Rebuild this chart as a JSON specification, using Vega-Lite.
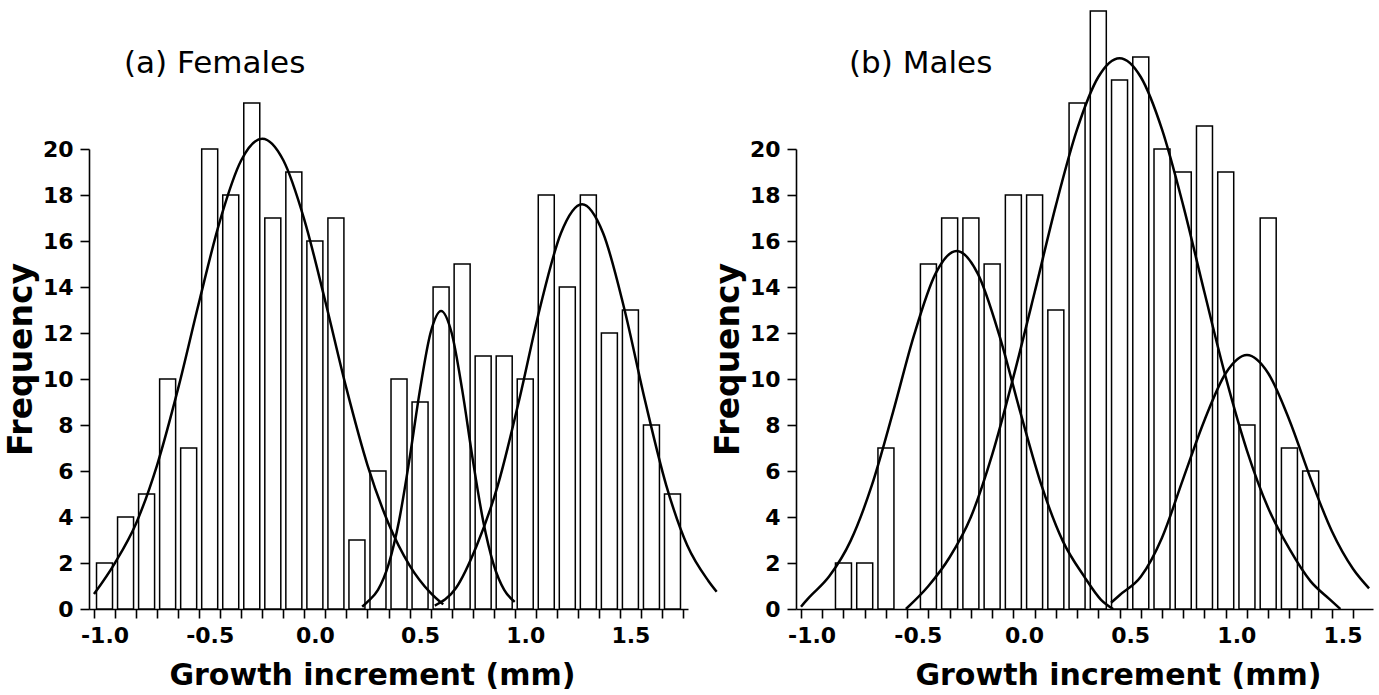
{
  "$schema": "https://vega.github.io/schema/vega-lite/v6.json",
  "background": "white",
  "padding": {"left": 5, "top": 10, "right": 5, "bottom": 0},
  "spacing": 108,
  "bounds": "flush",
  "config": {
    "view": {"stroke": null},
    "font": "DejaVu Sans",
    "axis": {
      "domainColor": "black", "domainWidth": 1.6,
      "tickColor": "black", "tickWidth": 1.6, "tickSize": 9,
      "labelFont": "DejaVu Sans", "labelFontWeight": "bold", "labelFontSize": 22, "labelColor": "black",
      "titleFont": "DejaVu Sans", "titleFontWeight": "bold", "titleColor": "black",
      "grid": false, "labelOverlap": false, "labelFlush": false
    }
  },
  "datasets": {
    "barsA": [
      {"x": -1.0, "count": 2}, {"x": -0.9, "count": 4}, {"x": -0.8, "count": 5}, {"x": -0.7, "count": 10},
      {"x": -0.6, "count": 7}, {"x": -0.5, "count": 20}, {"x": -0.4, "count": 18}, {"x": -0.3, "count": 22},
      {"x": -0.2, "count": 17}, {"x": -0.1, "count": 19}, {"x": 0.0, "count": 16}, {"x": 0.1, "count": 17},
      {"x": 0.2, "count": 3}, {"x": 0.3, "count": 6}, {"x": 0.4, "count": 10}, {"x": 0.5, "count": 9},
      {"x": 0.6, "count": 14}, {"x": 0.7, "count": 15}, {"x": 0.8, "count": 11}, {"x": 0.9, "count": 11},
      {"x": 1.0, "count": 10}, {"x": 1.1, "count": 18}, {"x": 1.2, "count": 14}, {"x": 1.3, "count": 18},
      {"x": 1.4, "count": 12}, {"x": 1.5, "count": 13}, {"x": 1.6, "count": 8}, {"x": 1.7, "count": 5}
    ],
    "barsB": [
      {"x": -0.85, "count": 2}, {"x": -0.75, "count": 2}, {"x": -0.65, "count": 7},
      {"x": -0.45, "count": 15}, {"x": -0.35, "count": 17}, {"x": -0.25, "count": 17}, {"x": -0.15, "count": 15},
      {"x": -0.05, "count": 18}, {"x": 0.05, "count": 18}, {"x": 0.15, "count": 13}, {"x": 0.25, "count": 22},
      {"x": 0.35, "count": 26}, {"x": 0.45, "count": 23}, {"x": 0.55, "count": 24}, {"x": 0.65, "count": 20},
      {"x": 0.75, "count": 19}, {"x": 0.85, "count": 21}, {"x": 0.95, "count": 19}, {"x": 1.05, "count": 8},
      {"x": 1.15, "count": 17}, {"x": 1.25, "count": 7}, {"x": 1.35, "count": 6}
    ],
    "curvesA": [
      {"comp": "1", "x": -1.05, "f": 0.65}, {"comp": "1", "x": -0.95, "f": 2.01}, {"comp": "1", "x": -0.85, "f": 3.72},
      {"comp": "1", "x": -0.75, "f": 6.26}, {"comp": "1", "x": -0.65, "f": 9.59}, {"comp": "1", "x": -0.55, "f": 13.36},
      {"comp": "1", "x": -0.45, "f": 16.92}, {"comp": "1", "x": -0.35, "f": 19.51}, {"comp": "1", "x": -0.25, "f": 20.45},
      {"comp": "1", "x": -0.15, "f": 19.51}, {"comp": "1", "x": -0.05, "f": 16.92}, {"comp": "1", "x": 0.05, "f": 13.36},
      {"comp": "1", "x": 0.15, "f": 9.59}, {"comp": "1", "x": 0.25, "f": 6.26}, {"comp": "1", "x": 0.35, "f": 3.72},
      {"comp": "1", "x": 0.45, "f": 1.9}, {"comp": "1", "x": 0.55, "f": 0.7}, {"comp": "1", "x": 0.61, "f": 0.2},
      {"comp": "2", "x": 0.225, "f": 0.1}, {"comp": "2", "x": 0.25, "f": 0.31}, {"comp": "2", "x": 0.3, "f": 0.83},
      {"comp": "2", "x": 0.35, "f": 1.93}, {"comp": "2", "x": 0.4, "f": 3.83}, {"comp": "2", "x": 0.45, "f": 6.53},
      {"comp": "2", "x": 0.5, "f": 9.55}, {"comp": "2", "x": 0.55, "f": 12.01}, {"comp": "2", "x": 0.6, "f": 12.96},
      {"comp": "2", "x": 0.65, "f": 12.01}, {"comp": "2", "x": 0.7, "f": 9.55}, {"comp": "2", "x": 0.75, "f": 6.53},
      {"comp": "2", "x": 0.8, "f": 3.83}, {"comp": "2", "x": 0.85, "f": 1.93}, {"comp": "2", "x": 0.9, "f": 0.83},
      {"comp": "2", "x": 0.95, "f": 0.31},
      {"comp": "3", "x": 0.57, "f": 0.15}, {"comp": "3", "x": 0.67, "f": 0.9}, {"comp": "3", "x": 0.77, "f": 2.77},
      {"comp": "3", "x": 0.87, "f": 5.39}, {"comp": "3", "x": 0.97, "f": 9.04}, {"comp": "3", "x": 1.07, "f": 13.09},
      {"comp": "3", "x": 1.17, "f": 16.35}, {"comp": "3", "x": 1.27, "f": 17.6}, {"comp": "3", "x": 1.37, "f": 16.35},
      {"comp": "3", "x": 1.47, "f": 13.09}, {"comp": "3", "x": 1.57, "f": 9.04}, {"comp": "3", "x": 1.67, "f": 5.39},
      {"comp": "3", "x": 1.77, "f": 2.77}, {"comp": "3", "x": 1.87, "f": 1.23}, {"comp": "3", "x": 1.91, "f": 0.75}
    ],
    "curvesB": [
      {"comp": "1", "x": -1.05, "f": 0.1}, {"comp": "1", "x": -1.017, "f": 0.45}, {"comp": "1", "x": -0.917, "f": 1.42},
      {"comp": "1", "x": -0.817, "f": 2.95}, {"comp": "1", "x": -0.717, "f": 5.36}, {"comp": "1", "x": -0.617, "f": 8.55},
      {"comp": "1", "x": -0.517, "f": 11.93}, {"comp": "1", "x": -0.417, "f": 14.57}, {"comp": "1", "x": -0.317, "f": 15.57},
      {"comp": "1", "x": -0.217, "f": 14.57}, {"comp": "1", "x": -0.117, "f": 11.93}, {"comp": "1", "x": -0.017, "f": 8.55},
      {"comp": "1", "x": 0.083, "f": 5.36}, {"comp": "1", "x": 0.183, "f": 2.95}, {"comp": "1", "x": 0.283, "f": 1.42},
      {"comp": "1", "x": 0.363, "f": 0.4}, {"comp": "1", "x": 0.42, "f": 0.0},
      {"comp": "2", "x": -0.556, "f": 0.0}, {"comp": "2", "x": -0.45, "f": 1.0}, {"comp": "2", "x": -0.35, "f": 2.25},
      {"comp": "2", "x": -0.25, "f": 4.0}, {"comp": "2", "x": -0.15, "f": 6.7}, {"comp": "2", "x": -0.05, "f": 10.08},
      {"comp": "2", "x": 0.05, "f": 13.76}, {"comp": "2", "x": 0.15, "f": 17.54}, {"comp": "2", "x": 0.25, "f": 20.85},
      {"comp": "2", "x": 0.35, "f": 23.13}, {"comp": "2", "x": 0.45, "f": 23.95}, {"comp": "2", "x": 0.55, "f": 23.13},
      {"comp": "2", "x": 0.65, "f": 20.85}, {"comp": "2", "x": 0.75, "f": 17.54}, {"comp": "2", "x": 0.85, "f": 13.76},
      {"comp": "2", "x": 0.95, "f": 10.08}, {"comp": "2", "x": 1.05, "f": 6.89}, {"comp": "2", "x": 1.15, "f": 4.39},
      {"comp": "2", "x": 1.25, "f": 2.61}, {"comp": "2", "x": 1.35, "f": 1.2}, {"comp": "2", "x": 1.44, "f": 0.42},
      {"comp": "2", "x": 1.49, "f": 0.0},
      {"comp": "3", "x": 0.41, "f": 0.27}, {"comp": "3", "x": 0.45, "f": 0.6}, {"comp": "3", "x": 0.55, "f": 1.4},
      {"comp": "3", "x": 0.65, "f": 3.1}, {"comp": "3", "x": 0.75, "f": 5.67}, {"comp": "3", "x": 0.85, "f": 8.21},
      {"comp": "3", "x": 0.95, "f": 10.25}, {"comp": "3", "x": 1.05, "f": 11.04}, {"comp": "3", "x": 1.15, "f": 10.25},
      {"comp": "3", "x": 1.25, "f": 8.21}, {"comp": "3", "x": 1.35, "f": 5.67}, {"comp": "3", "x": 1.45, "f": 3.38},
      {"comp": "3", "x": 1.55, "f": 1.74}, {"comp": "3", "x": 1.625, "f": 0.9}
    ]
  },
  "hconcat": [
    {
      "width": 599,
      "height": 460,
      "title": {"text": "(a) Females", "dx": 35, "anchor": "start", "frame": "group", "baseline": "alphabetic", "offset": -2, "font": "DejaVu Sans", "fontWeight": "normal", "fontSize": 31, "color": "black"},
      "resolve": {"scale": {"x": "shared", "y": "shared"}, "axis": {"x": "independent"}},
      "layer": [
        {
          "data": {"name": "barsA"},
          "mark": {"type": "bar", "orient": "vertical", "fill": "white", "stroke": "black", "strokeWidth": 1.5, "size": 16},
          "encoding": {
            "x": {
              "field": "x", "type": "quantitative",
              "scale": {"domain": [-1.05, 1.75], "nice": false, "zero": false},
              "axis": {
                "orient": "bottom", "title": null, "labels": false,
                "values": [-1.05, -0.95, -0.85, -0.75, -0.65, -0.55, -0.45, -0.35, -0.25, -0.15, -0.05, 0.05, 0.15, 0.25, 0.35, 0.45, 0.55, 0.65, 0.75, 0.85, 0.95, 1.05, 1.15, 1.25, 1.35, 1.45, 1.55, 1.65, 1.75]
              }
            },
            "y": {
              "field": "count", "type": "quantitative",
              "scale": {"domain": [0, 20], "nice": false},
              "axis": {"title": "Frequency", "titleFontSize": 33, "titlePadding": 4, "labelPadding": 7, "values": [0, 2, 4, 6, 8, 10, 12, 14, 16, 18, 20], "titleY": 210}
            }
          }
        },
        {
          "data": {"name": "curvesA"},
          "mark": {"type": "line", "color": "black", "strokeWidth": 2.5, "interpolate": "monotone"},
          "encoding": {
            "x": {
              "field": "x", "type": "quantitative",
              "axis": {
                "orient": "bottom", "domain": false, "tickOpacity": 0,
                "title": "Growth increment (mm)", "titleFontSize": 30, "titlePadding": 14, "titleX": 283,
                "labelPadding": 7,
                "values": [-1.0, -0.5, 0.0, 0.5, 1.0, 1.5],
                "labelExpr": "(datum.value < 0 ? '-' : '') + format(abs(datum.value), '.1f')"
              }
            },
            "y": {"field": "f", "type": "quantitative"},
            "detail": {"field": "comp"}
          }
        }
      ]
    },
    {
      "width": 577,
      "height": 460,
      "title": {"text": "(b) Males", "dx": 53, "anchor": "start", "frame": "group", "baseline": "alphabetic", "offset": -94, "font": "DejaVu Sans", "fontWeight": "normal", "fontSize": 31, "color": "black"},
      "resolve": {"scale": {"x": "shared", "y": "shared"}, "axis": {"x": "independent"}},
      "layer": [
        {
          "data": {"name": "barsB"},
          "mark": {"type": "bar", "orient": "vertical", "fill": "white", "stroke": "black", "strokeWidth": 1.5, "size": 16},
          "encoding": {
            "x": {
              "field": "x", "type": "quantitative",
              "scale": {"domain": [-1.05, 1.62], "nice": false, "zero": false},
              "axis": {
                "orient": "bottom", "title": null, "labels": false,
                "values": [-1.05, -0.95, -0.85, -0.75, -0.65, -0.55, -0.45, -0.35, -0.25, -0.15, -0.05, 0.05, 0.15, 0.25, 0.35, 0.45, 0.55, 0.65, 0.75, 0.85, 0.95, 1.05, 1.15, 1.25, 1.35, 1.45, 1.55]
              }
            },
            "y": {
              "field": "count", "type": "quantitative",
              "scale": {"domain": [0, 20], "nice": false},
              "axis": {"title": "Frequency", "titleFontSize": 33, "titlePadding": 4, "labelPadding": 7, "values": [0, 2, 4, 6, 8, 10, 12, 14, 16, 18, 20], "titleY": 210}
            }
          }
        },
        {
          "data": {"name": "curvesB"},
          "mark": {"type": "line", "color": "black", "strokeWidth": 2.5, "interpolate": "monotone"},
          "encoding": {
            "x": {
              "field": "x", "type": "quantitative",
              "axis": {
                "orient": "bottom", "domain": false, "tickOpacity": 0,
                "title": "Growth increment (mm)", "titleFontSize": 30, "titlePadding": 14, "titleX": 322,
                "labelPadding": 7,
                "values": [-1.0, -0.5, 0.0, 0.5, 1.0, 1.5],
                "labelExpr": "(datum.value < 0 ? '-' : '') + format(abs(datum.value), '.1f')"
              }
            },
            "y": {"field": "f", "type": "quantitative"},
            "detail": {"field": "comp"}
          }
        }
      ]
    }
  ]
}
